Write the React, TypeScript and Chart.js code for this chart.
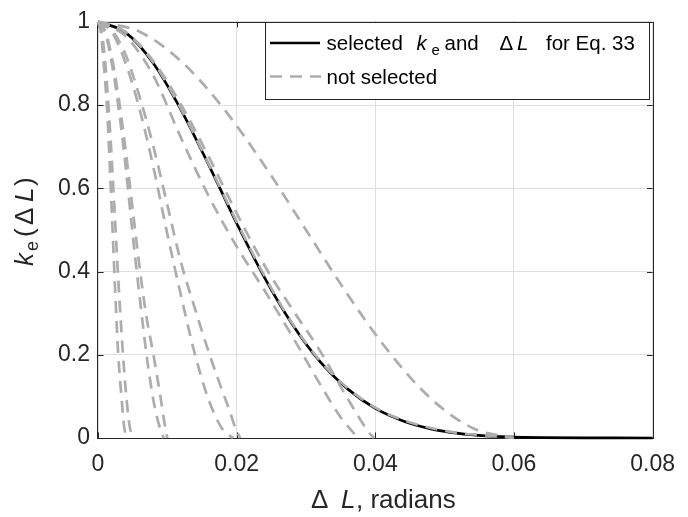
import React, { useEffect, useRef } from "react";
import { Chart, registerables } from "chart.js";

Chart.register(...registerables);

// ---- tick labels ----
const xTickLabels = ["0", "0.02", "0.04", "0.06", "0.08"];
const yTickLabels = ["0", "0.2", "0.4", "0.6", "0.8", "1"];

// ---- selected curve (black) ----
const selectedX = [0, 0.004, 0.008, 0.012, 0.016, 0.02, 0.024, 0.028, 0.032, 0.036, 0.04, 0.044, 0.048, 0.052, 0.056, 0.06, 0.08];
const selectedY = [1, 0.974, 0.9, 0.788, 0.655, 0.516, 0.386, 0.274, 0.184, 0.118, 0.071, 0.041, 0.022, 0.011, 0.005, 0.002, 0];

// ---- not selected curves (gray dashed) ----
const curveA1X = [0, 0.0004, 0.0008, 0.0013, 0.0017, 0.0021, 0.0025, 0.0029, 0.0034, 0.0038, 0.0042];
const curveA1Y = [1, 0.976, 0.905, 0.794, 0.655, 0.5, 0.345, 0.206, 0.095, 0.024, 0];
const curveA2X = [0, 0.0005, 0.001, 0.0015, 0.002, 0.0025, 0.003, 0.0035, 0.004, 0.0045, 0.005];
const curveA2Y = [1, 0.978, 0.91, 0.8, 0.665, 0.51, 0.36, 0.225, 0.115, 0.035, 0];
const curveB1X = [0, 0.001, 0.002, 0.003, 0.004, 0.005, 0.006, 0.007, 0.008, 0.009, 0.0095];
const curveB1Y = [1, 0.975, 0.9, 0.79, 0.65, 0.49, 0.34, 0.2, 0.09, 0.02, 0];
const curveB2X = [0, 0.001, 0.002, 0.003, 0.004, 0.005, 0.006, 0.007, 0.008, 0.009, 0.0095, 0.01];
const curveB2Y = [1, 0.98, 0.915, 0.815, 0.69, 0.55, 0.41, 0.29, 0.2, 0.1, 0.045, 0];
const curveC1X = [0, 0.002, 0.004, 0.006, 0.008, 0.01, 0.012, 0.014, 0.016, 0.018, 0.0195];
const curveC1Y = [1, 0.975, 0.9, 0.79, 0.65, 0.49, 0.34, 0.2, 0.09, 0.02, 0];
const curveC2X = [0, 0.002, 0.004, 0.006, 0.008, 0.01, 0.012, 0.014, 0.016, 0.018, 0.019, 0.0198, 0.0205];
const curveC2Y = [1, 0.98, 0.92, 0.82, 0.7, 0.56, 0.42, 0.31, 0.205, 0.11, 0.065, 0.025, 0];
const curveD1X = [0, 0.004, 0.008, 0.012, 0.016, 0.02, 0.024, 0.028, 0.032, 0.035, 0.0375];
const curveD1Y = [1, 0.965, 0.87, 0.72, 0.58, 0.46, 0.355, 0.245, 0.13, 0.05, 0];
const curveD2X = [0, 0.004, 0.008, 0.012, 0.016, 0.02, 0.024, 0.028, 0.032, 0.036, 0.039, 0.0398];
const curveD2Y = [1, 0.975, 0.905, 0.8, 0.675, 0.54, 0.415, 0.31, 0.21, 0.095, 0.015, 0];
const curveEX = [0, 0.006, 0.012, 0.018, 0.024, 0.03, 0.036, 0.042, 0.048, 0.054, 0.06];
const curveEY = [1, 0.976, 0.905, 0.794, 0.655, 0.5, 0.345, 0.206, 0.095, 0.024, 0];
const curveGX = [0, 0.004, 0.008, 0.012, 0.016, 0.02, 0.024, 0.028, 0.032, 0.036, 0.04, 0.044, 0.048, 0.052, 0.056, 0.06];
const curveGY = [1, 0.975, 0.902, 0.79, 0.657, 0.52, 0.39, 0.276, 0.186, 0.12, 0.073, 0.043, 0.024, 0.012, 0.006, 0];

const notSelected: [number[], number[]][] = [
  [curveA1X, curveA1Y],
  [curveA2X, curveA2Y],
  [curveB1X, curveB1Y],
  [curveB2X, curveB2Y],
  [curveC1X, curveC1Y],
  [curveC2X, curveC2Y],
  [curveD1X, curveD1Y],
  [curveD2X, curveD2Y],
  [curveEX, curveEY],
  [curveGX, curveGY],
];

const legendNotSelected = "not selected";

const FONT = "'Liberation Sans', Arial, Helvetica, sans-serif";
const AX = "#262626";
const GRAY = "#adadad";

const toPts = (xs: number[], ys: number[]) => xs.map((x, i) => ({ x, y: ys[i] }));

type Run = { t: string; x: number; size: number; italic?: boolean; dy?: number };

function drawRuns(ctx: CanvasRenderingContext2D, runs: Run[], baseY: number) {
  for (const r of runs) {
    ctx.font = `${r.italic ? "italic " : ""}${r.size}px ${FONT}`;
    ctx.fillText(r.t, r.x, baseY + (r.dy || 0));
  }
}

const decorPlugin = {
  id: "decor",
  beforeDatasetsDraw(chart: any) {
    const { ctx, chartArea: a, scales } = chart;
    ctx.save();
    ctx.strokeStyle = AX;
    ctx.lineWidth = 1;
    const tl = 5.6;
    ctx.beginPath();
    scales.x.ticks.forEach((t: any) => {
      const px = Math.round(scales.x.getPixelForValue(t.value)) + 0.5;
      ctx.moveTo(px, a.bottom);
      ctx.lineTo(px, a.bottom - tl);
      ctx.moveTo(px, a.top);
      ctx.lineTo(px, a.top + tl);
    });
    scales.y.ticks.forEach((t: any) => {
      const py = Math.round(scales.y.getPixelForValue(t.value)) + 0.5;
      ctx.moveTo(a.left, py);
      ctx.lineTo(a.left + tl, py);
      ctx.moveTo(a.right, py);
      ctx.lineTo(a.right - tl, py);
    });
    ctx.stroke();
    ctx.strokeRect(Math.round(a.left) - 0.5, Math.round(a.top) + 0.5, Math.round(a.right - a.left) + 1, Math.round(a.bottom - a.top));
    ctx.restore();
  },
  afterDraw(chart: any) {
    const { ctx } = chart;
    ctx.save();
    // ---- legend ----
    const bx = 265.5, by = 22.5, bw = 384, bh = 77;
    ctx.fillStyle = "#ffffff";
    ctx.fillRect(bx, by, bw, bh);
    ctx.strokeStyle = AX;
    ctx.lineWidth = 1;
    ctx.strokeRect(bx, by, bw, bh);
    ctx.lineWidth = 2.5;
    ctx.strokeStyle = "#000000";
    ctx.beginPath();
    ctx.moveTo(270, 43);
    ctx.lineTo(320, 43);
    ctx.stroke();
    ctx.strokeStyle = GRAY;
    ctx.setLineDash([12, 8]);
    ctx.beginPath();
    ctx.moveTo(270, 76.5);
    ctx.lineTo(321, 76.5);
    ctx.stroke();
    ctx.setLineDash([]);
    ctx.fillStyle = "#000000";
    ctx.textBaseline = "alphabetic";
    ctx.textAlign = "left";
    drawRuns(ctx, [
      { t: "selected", x: 326.5, size: 20.5 },
      { t: "k", x: 416.5, size: 20.5, italic: true },
      { t: "e", x: 431.5, size: 15, dy: 5 },
      { t: "and", x: 444.5, size: 20.5 },
      { t: "\u0394", x: 499.5, size: 20.5 },
      { t: "L", x: 517, size: 20.5, italic: true },
      { t: "for Eq. 33", x: 546, size: 20.5 },
    ], 50);
    drawRuns(ctx, [{ t: legendNotSelected, x: 326.5, size: 20.5 }], 83.5);

    // ---- x axis title ----
    ctx.fillStyle = AX;
    drawRuns(ctx, [
      { t: "\u0394", x: 311, size: 26 },
      { t: "L", x: 341, size: 26, italic: true },
      { t: ", radians", x: 356, size: 26 },
    ], 508);

    // ---- y axis title ----
    ctx.translate(33, 266);
    ctx.rotate(-Math.PI / 2);
    drawRuns(ctx, [
      { t: "k", x: 0, size: 26, italic: true },
      { t: "e", x: 15, size: 18, dy: 5 },
      { t: "(", x: 29, size: 26 },
      { t: "\u0394", x: 41, size: 26 },
      { t: "L", x: 64, size: 26, italic: true },
      { t: ")", x: 80, size: 26 },
    ], 0);
    ctx.restore();
  },
};

export default function App() {
  const ref = useRef<HTMLCanvasElement | null>(null);
  useEffect(() => {
    document.body.style.margin = "0";
    const canvas = ref.current!;
    const grayDatasets = notSelected.map(([xs, ys]) => ({
      data: toPts(xs, ys),
      borderColor: GRAY,
      borderWidth: 2.7,
      borderDash: [12, 8],
      pointRadius: 0,
      cubicInterpolationMode: "monotone" as const,
      fill: false,
      order: 0,
      clip: false as any,
    }));
    const chart = new Chart(canvas, {
      type: "line",
      data: {
        datasets: [
          {
            data: toPts(selectedX, selectedY),
            borderColor: "#000000",
            borderWidth: 2.7,
            pointRadius: 0,
            cubicInterpolationMode: "monotone",
            fill: false,
            order: 10,
            clip: false as any,
          },
          ...grayDatasets,
        ],
      },
      options: {
        animation: false,
        responsive: false,
        devicePixelRatio: 1,
        layout: { padding: { left: 0, top: 8, right: 25, bottom: 0 } },
        plugins: { legend: { display: false }, tooltip: { enabled: false } },
        scales: {
          x: {
            type: "linear",
            min: 0,
            max: 0.08,
            afterFit: (s: any) => { s.height = 79; },
            border: { display: false },
            grid: { color: "#dfdfdf", lineWidth: 1, drawTicks: false },
            ticks: {
              stepSize: 0.02,
              padding: 13,
              color: AX,
              font: { family: FONT, size: 23 },
              maxRotation: 0,
              callback: (_v: any, i: number) => xTickLabels[i],
            },
          },
          y: {
            type: "linear",
            min: 0,
            max: 1,
            afterFit: (s: any) => { s.width = 98; },
            border: { display: false },
            grid: { color: "#dfdfdf", lineWidth: 1, drawTicks: false },
            ticks: {
              stepSize: 0.2,
              padding: 8,
              color: AX,
              font: { family: FONT, size: 23 },
              callback: (_v: any, i: number) => yTickLabels[i],
            },
          },
        },
      },
      plugins: [decorPlugin],
    });
    return () => chart.destroy();
  }, []);
  return <canvas ref={ref} width={688} height={517} style={{ display: "block" }} />;
}
